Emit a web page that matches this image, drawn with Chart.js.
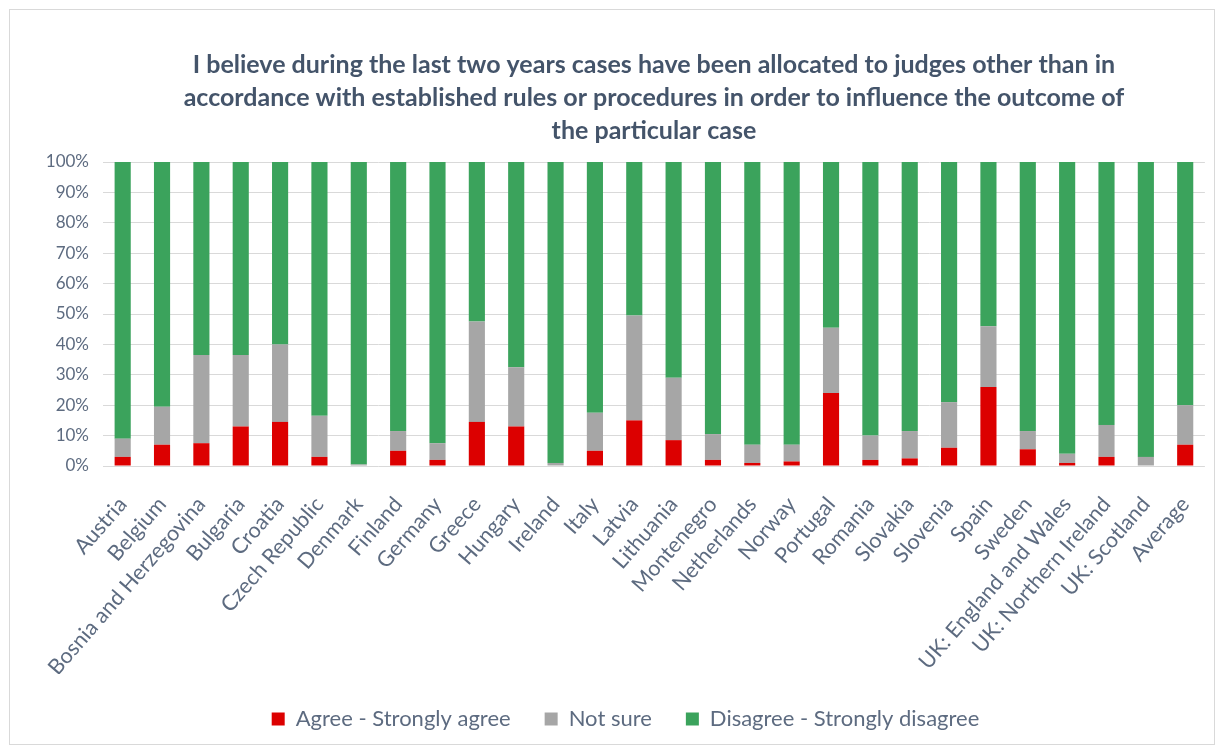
<!DOCTYPE html>
<html>
<head>
<meta charset="utf-8">
<script src="https://cdn.jsdelivr.net/npm/chart.js@4"></script>
<style>
  html, body { margin: 0; padding: 0; background: #fff; }
  #frame {
    position: absolute; left: 9px; top: 9px; width: 1204px; height: 734px;
    border: 1px solid #d9d9d9;
  }
  #wrap { position: absolute; left: 0; top: 0; width: 1223px; height: 751px; }
</style>
</head>
<body>
<div id="frame"></div>
<div id="wrap"><canvas id="chart" width="1223" height="751"></canvas></div>
<script>
// Survey responses per country (percent of respondents)
const countries = [
  'Austria', 'Belgium', 'Bosnia and Herzegovina', 'Bulgaria', 'Croatia', 'Czech Republic',
  'Denmark', 'Finland', 'Germany', 'Greece', 'Hungary', 'Ireland', 'Italy', 'Latvia',
  'Lithuania', 'Montenegro', 'Netherlands', 'Norway', 'Portugal', 'Romania', 'Slovakia',
  'Slovenia', 'Spain', 'Sweden', 'UK: England and Wales', 'UK: Northern Ireland',
  'UK: Scotland', 'Average'
];
const agree    = [3, 7, 7.5, 13, 14.5, 3, 0, 5, 2, 14.5, 13, 0, 5, 15, 8.5, 2, 1, 1.5, 24, 2, 2.5, 6, 26, 5.5, 1, 3, 0, 7];
const notSure  = [6, 12.5, 29, 23.5, 25.5, 13.5, 0.5, 6.5, 5.5, 33, 19.5, 1, 12.5, 34.5, 20.5, 8.5, 6, 5.5, 21.5, 8, 9, 15, 20, 6, 3, 10.5, 3, 13];
const disagree = [91, 80.5, 63.5, 63.5, 60, 83.5, 99.5, 88.5, 92.5, 52.5, 67.5, 99, 82.5, 50.5, 71, 89.5, 93, 93, 54.5, 90, 88.5, 79, 54, 88.5, 96, 86.5, 97, 80];

const titleLines = [
  'I believe during the last two years cases have been allocated to judges other than in',
  'accordance with established rules or procedures in order to influence the outcome of',
  'the particular case'
];

const FONT = 'Lato, "Open Sans", sans-serif';
const TEXT = '#5d6b80';

new Chart(document.getElementById('chart'), {
  type: 'bar',
  data: {
    labels: countries,
    datasets: [
      { label: 'Agree - Strongly agree', data: agree, backgroundColor: '#dc0000' },
      { label: 'Not sure', data: notSure, backgroundColor: '#a6a6a6' },
      { label: 'Disagree - Strongly disagree', data: disagree, backgroundColor: '#3ba35c' }
    ]
  },
  options: {
    responsive: false,
    animation: false,
    layout: { padding: { top: 10, left: 46, right: 18, bottom: 11 } },
    datasets: { bar: { categoryPercentage: 0.82, barPercentage: 0.5, borderWidth: 0 } },
    plugins: {
      title: {
        display: true,
        fullSize: false,
        text: titleLines,
        color: '#44546a',
        font: { family: FONT, size: 25, weight: 'bold', lineHeight: 1.32 },
        padding: { top: 38, bottom: 15 }
      },
      legend: {
        position: 'bottom',
        labels: {
          color: TEXT,
          font: { family: FONT, size: 22 },
          boxWidth: 13,
          boxHeight: 13,
          padding: 34
        }
      },
      tooltip: { enabled: false }
    },
    scales: {
      x: {
        stacked: true,
        grid: { display: false },
        border: { display: false },
        ticks: {
          color: TEXT,
          font: { family: FONT, size: 21.5 },
          minRotation: 49,
          maxRotation: 49,
          autoSkip: false,
          padding: 18
        },
        afterFit: (scale) => { scale.height = 208; }
      },
      y: {
        stacked: true,
        min: 0,
        max: 100,
        grid: { color: '#d9d9d9', drawTicks: false },
        border: { display: false },
        ticks: {
          stepSize: 10,
          color: TEXT,
          font: { family: FONT, size: 17 },
          padding: 14,
          callback: (v) => v + '%'
        },
        afterFit: (scale) => { scale.width = 57; }
      }
    }
  }
});
</script>
</body>
</html>
